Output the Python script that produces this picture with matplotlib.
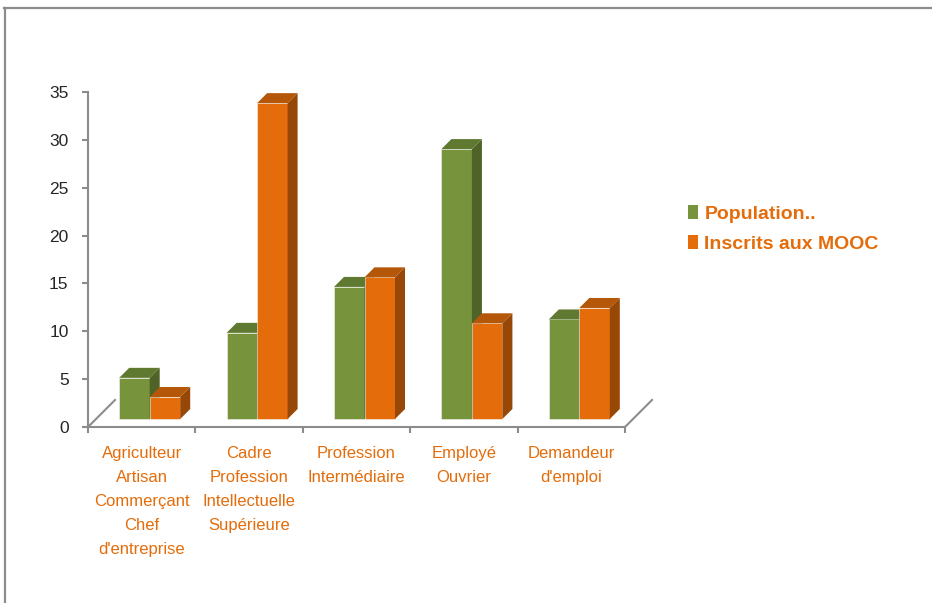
import matplotlib
matplotlib.use("Agg")
import matplotlib.pyplot as plt
from matplotlib.lines import Line2D
from matplotlib.patches import Patch, Polygon

categories = [
    "Agriculteur\nArtisan\nCommerçant\nChef\nd'entreprise",
    "Cadre\nProfession\nIntellectuelle\nSupérieure",
    "Profession\nIntermédiaire",
    "Employé\nOuvrier",
    "Demandeur\nd'emploi",
]
population = [4.3, 9.0, 13.8, 28.2, 10.4]
inscrits = [2.3, 33.0, 14.8, 10.0, 11.6]
series_names = ["Population..", "Inscrits aux MOOC"]
yticks = [0, 5, 10, 15, 20, 25, 30, 35]

# front / side / top shades for the pseudo-3D columns
GREEN = ("#77933c", "#4f6228", "#5f7a30")
ORANGE = ("#e46c0a", "#974706", "#b45708")
AXIS_GREY = "#8c8c8c"
LABEL_ORANGE = "#e46c0a"
SANS = ["Liberation Sans", "DejaVu Sans"]

W, H = 932, 603
fig = plt.figure(figsize=(W / 100, H / 100), dpi=100)
ax = fig.add_axes([88 / W, (H - 427) / H, 537 / W, 335 / H])
ax.set_xlim(0, len(categories))
ax.set_ylim(0, 35)


def px(dx, dy):
    """pixel lengths -> data lengths"""
    return dx * len(categories) / 537, dy * 35 / 335


bar_w, _ = px(30.5, 0)
off_x, off_y = px(8, 8)     # bars stand a little behind the front edge
dep_x, dep_y = px(10, 10)   # depth of each column
flo_x, flo_y = px(27, 27)   # depth of the floor


def column(x0, v, shades, label=None):
    front, side, top = shades
    b = off_y
    ax.bar(x0, v, width=bar_w, bottom=b, align="edge", color=front,
           edgecolor="#f4f4f4", linewidth=0.4, label=label, clip_on=False,
           zorder=3)
    x1 = x0 + bar_w
    ax.add_patch(Polygon([(x1, b), (x1, b + v), (x1 + dep_x, b + v + dep_y),
                          (x1 + dep_x, b + dep_y)], closed=True,
                         facecolor=side, edgecolor="none", clip_on=False,
                         zorder=3))
    ax.add_patch(Polygon([(x0, b + v), (x0 + dep_x, b + v + dep_y),
                          (x1 + dep_x, b + v + dep_y), (x1, b + v)],
                         closed=True, facecolor=top, edgecolor="none",
                         clip_on=False, zorder=3))


for i in range(len(categories)):
    c = i + 0.5
    column(c - bar_w + off_x, population[i], GREEN,
           series_names[0] if i == 0 else None)
    column(c + off_x, inscrits[i], ORANGE,
           series_names[1] if i == 0 else None)

# floor edges
for xe in (0, len(categories)):
    ax.add_line(Line2D([xe, xe + flo_x], [0, flo_y], color=AXIS_GREY,
                       lw=1.5, clip_on=False, zorder=2))

for s in ("top", "right"):
    ax.spines[s].set_visible(False)
for s in ("left", "bottom"):
    ax.spines[s].set_color(AXIS_GREY)
    ax.spines[s].set_linewidth(1.5)

ax.set_yticks(yticks)
ax.set_yticklabels([str(t) for t in yticks], family=SANS, fontsize=12.5,
                   color="#262626")
ax.tick_params(axis="y", length=4, width=1.5, color=AXIS_GREY, pad=10)
ax.set_xticks(range(len(categories) + 1))
ax.set_xticklabels([])
ax.tick_params(axis="x", which="major", length=4, width=1.5, color=AXIS_GREY)
ax.set_xticks([i + 0.5 for i in range(len(categories))], minor=True)
ax.set_xticklabels(categories, minor=True, family=SANS, fontsize=12,
                   color=LABEL_ORANGE, va="top")
ax.tick_params(axis="x", which="minor", length=0, pad=13.5)
for t in ax.get_xticklabels(minor=True):
    t.set_linespacing(1.76)

handles = [Patch(facecolor=GREEN[0]), Patch(facecolor=ORANGE[0])]
leg = fig.legend(handles, series_names, loc="upper left",
                 bbox_to_anchor=(680 / W, 1 - 197 / H), frameon=False,
                 handlelength=0.55, handleheight=0.75, handletextpad=0.3,
                 labelspacing=0.62, borderaxespad=0,
                 prop={"family": SANS, "weight": "bold", "size": 14})
for t in leg.get_texts():
    t.set_color(LABEL_ORANGE)

# outer frame: top and left edges only
fig.add_artist(Line2D([4 / W, 1], [1 - 7.5 / H, 1 - 7.5 / H],
                      color=AXIS_GREY, lw=1.6))
fig.add_artist(Line2D([4.5 / W, 4.5 / W], [0, 1 - 7.5 / H],
                      color=AXIS_GREY, lw=1.6))

fig.savefig("out.png", dpi=100)
